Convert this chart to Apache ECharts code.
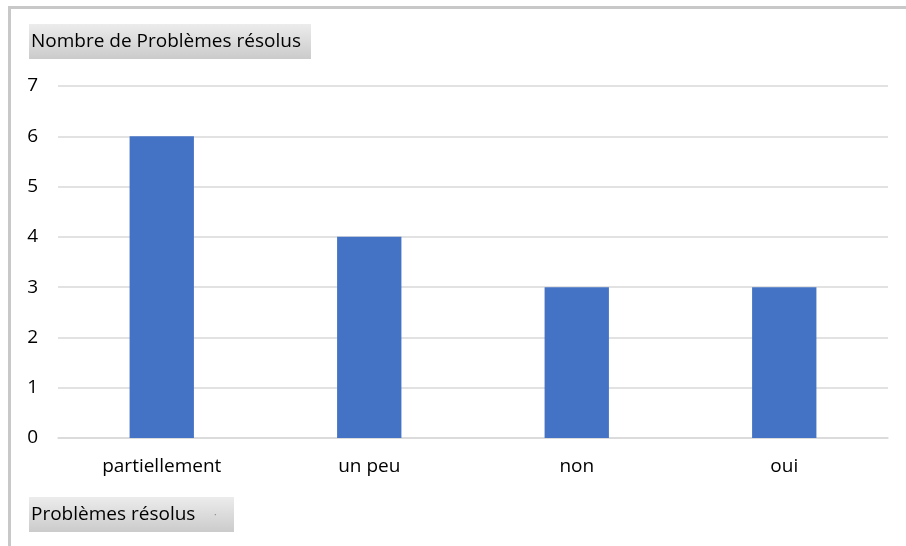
<!DOCTYPE html>
<html><head><meta charset="utf-8">
<script src="https://cdn.jsdelivr.net/npm/echarts@6/dist/echarts.min.js"></script>
<style>html,body{margin:0;padding:0;background:#fff}#c{width:906px;height:546px}</style>
</head><body><div id="c"></div>
<script>
const categories = ['partiellement', 'un peu', 'non', 'oui'];
const values = [6, 4, 3, 3];
const yTicks = [0, 1, 2, 3, 4, 5, 6, 7];
const yTitle = 'Nombre de Problèmes résolus';
const xTitle = 'Problèmes résolus';

const FONT = '"Open Sans", "Noto Sans", sans-serif';
const chart = echarts.init(document.getElementById('c'));
const grad = new echarts.graphic.LinearGradient(0, 0, 0, 1, [
  {offset: 0, color: '#ececec'}, {offset: 1, color: '#cbcbcb'}
]);
const grad2 = new echarts.graphic.LinearGradient(0, 0, 0, 1, [
  {offset: 0, color: '#ececec'}, {offset: 1, color: '#cbcbcb'}
]);
chart.setOption({
  animation: false,
  backgroundColor: '#fff',
  textStyle: {fontFamily: FONT},
  grid: {left: 58, right: 18, top: 86, bottom: 108},
  xAxis: {
    type: 'category', data: categories,
    axisLine: {lineStyle: {color: '#d9d9d9', width: 1.5}},
    axisTick: {show: false},
    axisLabel: {color: '#000', fontSize: 19, margin: 19, fontFamily: FONT}
  },
  yAxis: {
    type: 'value', min: yTicks[0], max: yTicks[yTicks.length - 1], interval: 1,
    axisLine: {show: false}, axisTick: {show: false},
    splitLine: {lineStyle: {color: '#d9d9d9', width: 1.5}},
    axisLabel: {color: '#000', fontSize: 19, margin: 20, fontFamily: FONT}
  },
  series: [{
    type: 'bar', data: values, barWidth: '31%',
    itemStyle: {color: '#4472c4'}
  }],
  graphic: [
    {type: 'rect', shape: {x: 8, y: 6, width: 898, height: 3}, style: {fill: '#c8c8c8'}, z: 10},
    {type: 'rect', shape: {x: 8, y: 6, width: 3, height: 540}, style: {fill: '#c8c8c8'}, z: 10},
    {type: 'rect', shape: {x: 29, y: 24, width: 282, height: 35}, style: {fill: grad}, z: 10},
    {type: 'text', x: 31, y: 42, style: {text: yTitle, fill: '#000', font: '19px ' + FONT, textVerticalAlign: 'middle'}, z: 11},
    {type: 'rect', shape: {x: 29, y: 497, width: 205, height: 35}, style: {fill: grad2}, z: 10},
    {type: 'text', x: 31, y: 515, style: {text: xTitle, fill: '#000', font: '19px ' + FONT, textVerticalAlign: 'middle'}, z: 11},
    {type: 'text', x: 214, y: 515, style: {text: '·', fill: '#888', font: '10px ' + FONT, textVerticalAlign: 'middle'}, z: 11}
  ]
});
</script></body></html>
